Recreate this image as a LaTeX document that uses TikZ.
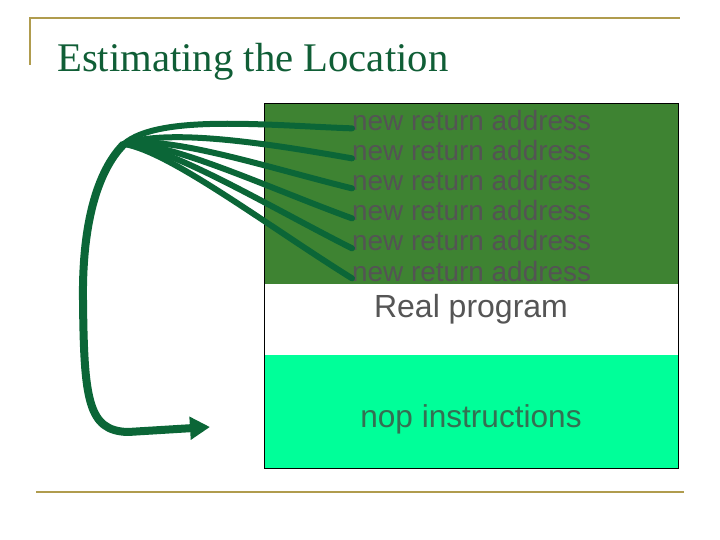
\documentclass[tikz,border=0pt]{standalone}
\usepackage{fontspec}
\setmainfont{Liberation Sans}
\newfontfamily\titlefont{Liberation Serif}
\usetikzlibrary{arrows.meta}
\definecolor{stackgreen}{RGB}{62, 131, 50}
\definecolor{nopgreen}{RGB}{0, 255, 153}
\definecolor{ptrgreen}{RGB}{11, 102, 55}
\definecolor{rulegold}{RGB}{176, 156, 78}
\definecolor{titlegreen}{RGB}{16, 94, 54}
\definecolor{addrgray}{RGB}{84, 84, 84}
\definecolor{realgray}{RGB}{85, 85, 85}
\definecolor{nopgray}{RGB}{52, 112, 82}

\tikzset{
	addr/.style={anchor=base west, inner sep=0pt, text=addrgray, font=\fontsize{27.9}{30}\selectfont},
	region/.style={anchor=base, inner sep=0pt},
	ptr/.style={draw=ptrgreen, line width=6pt, line cap=round},
	jump/.style={draw=ptrgreen, line width=8pt, line join=round, -{Triangle[length=20pt, width=22pt]}},
	goldrule/.style={draw=rulegold, line width=2pt}
}

\begin{document}
\begin{tikzpicture}[x=1pt, y=-1pt]
	\useasboundingbox (0, 0) rectangle (720, 540);
	\draw [goldrule] (30, 65) -- (30, 18) -- (680, 18);
	\draw [goldrule, line width=2.5pt] (36, 492) -- (684, 492);
	\node [anchor=base west, inner sep=0pt, text=titlegreen, font=\titlefont\fontsize{40.7}{44}\selectfont] (title) at (57, 72) {Estimating the Location};

	\fill [stackgreen] (264, 103) rectangle (678, 284);
	\fill [white] (264, 284) rectangle (678, 355);
	\fill [nopgreen] (264, 355) rectangle (678, 468);
	\draw [black, line width=0.8pt] (264, 103) rectangle (678, 468);

	\foreach \i in {1,...,6}
		\node [addr] (addr\i) at (352, 101+30*\i) {new return address};
	\node [region, text=realgray, font=\fontsize{32}{35}\selectfont] (real) at (471, 317) {Real program};
	\node [region, text=nopgray, font=\fontsize{31.6}{34}\selectfont] (nop) at (471, 427) {nop instructions};

	\coordinate (hub) at (124, 144);
	\coordinate (bend) at (83, 300);
	\coordinate (corner) at (128, 432);
	\coordinate (tip) at (210, 427);

	\foreach \i/\k/\m/\n in {1/3/35/-30, 2/15/45/-16, 3/21/45/-9, 4/31/45/-3, 5/43/45/2, 6/53/45/7}
		\draw [ptr] (addr\i.mid west) .. controls +(-85, -\k) and +(\m, \n) .. (hub);
	\draw [jump] (hub) .. controls +(-27, 27) and +(-1, -75) .. (bend) .. controls +(1, 100) and +(-40, -1) .. (corner) -- (tip);
\end{tikzpicture}
\end{document}
